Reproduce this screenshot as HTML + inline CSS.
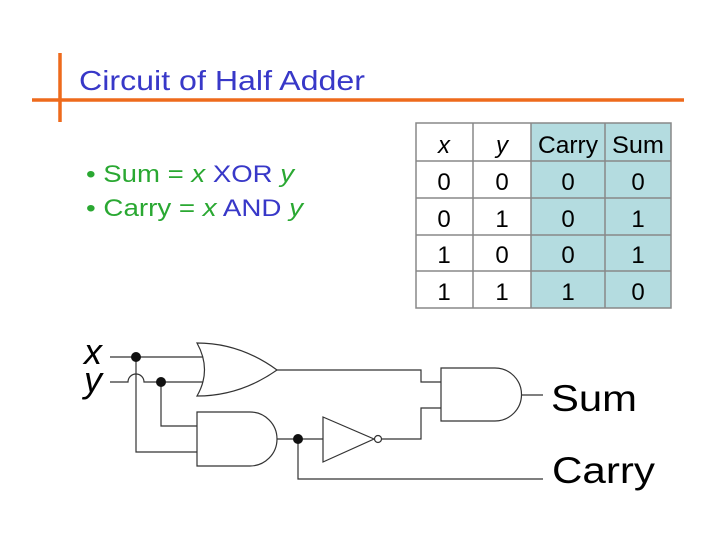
<!DOCTYPE html>
<html><head><meta charset="utf-8"><style>
body{margin:0;width:720px;height:540px;background:#fff;overflow:hidden;font-family:"Liberation Sans",sans-serif}
</style></head><body>
<svg width="720" height="540" viewBox="0 0 720 540" xmlns="http://www.w3.org/2000/svg" font-family="Liberation Sans, sans-serif">
<line x1="32" y1="100" x2="684" y2="100" stroke="#ee6a1c" stroke-width="3.5"/>
<line x1="60" y1="53" x2="60" y2="122" stroke="#ee6a1c" stroke-width="3.5"/>
<text x="79" y="90" font-size="28" fill="#3838c8" textLength="286" lengthAdjust="spacingAndGlyphs">Circuit of Half Adder</text>
<text x="86" y="182" font-size="24" fill="#2aa832" textLength="208" lengthAdjust="spacingAndGlyphs">• Sum = <tspan font-style="italic">x</tspan> <tspan fill="#3838c8">XOR</tspan> <tspan font-style="italic">y</tspan></text>
<text x="86" y="216" font-size="24" fill="#2aa832" textLength="217" lengthAdjust="spacingAndGlyphs">• Carry = <tspan font-style="italic">x</tspan> <tspan fill="#3838c8">AND</tspan> <tspan font-style="italic">y</tspan></text>
<!-- table -->
<rect x="531" y="123" width="140" height="185" fill="#b4dce0"/>
<g stroke="#888" stroke-width="1.5" fill="none">
<rect x="416" y="123" width="255" height="185"/>
<line x1="473" y1="123" x2="473" y2="308"/><line x1="531" y1="123" x2="531" y2="308"/><line x1="605" y1="123" x2="605" y2="308"/>
<line x1="416" y1="161" x2="671" y2="161"/><line x1="416" y1="198" x2="671" y2="198"/><line x1="416" y1="235" x2="671" y2="235"/><line x1="416" y1="271" x2="671" y2="271"/>
</g>
<g font-size="24" fill="#000" text-anchor="middle">
<text x="444" y="153" font-style="italic">x</text><text x="502" y="153" font-style="italic">y</text><text x="568" y="153" textLength="60" lengthAdjust="spacingAndGlyphs">Carry</text><text x="638" y="153" textLength="52" lengthAdjust="spacingAndGlyphs">Sum</text>
<text x="444" y="190">0</text><text x="502" y="190">0</text><text x="568" y="190">0</text><text x="638" y="190">0</text>
<text x="444" y="227">0</text><text x="502" y="227">1</text><text x="568" y="227">0</text><text x="638" y="227">1</text>
<text x="444" y="263">1</text><text x="502" y="263">0</text><text x="568" y="263">0</text><text x="638" y="263">1</text>
<text x="444" y="300">1</text><text x="502" y="300">1</text><text x="568" y="300">1</text><text x="638" y="300">0</text>
</g>
<!-- circuit -->
<text x="84" y="364" font-size="36" font-style="italic">x</text>
<text x="84" y="392" font-size="36" font-style="italic">y</text>
<g stroke="#333" stroke-width="1.2" fill="none">
<line x1="110" y1="357" x2="204" y2="357"/>
<path d="M110 382 H128 A8 8 0 0 1 144 382 H204"/>
<path d="M197 343 Q240 343 277 370 Q240 396 197 396 Q212 370 197 343 Z" fill="#fff"/>
<path d="M277 370 H421 V382 H441"/>
<path d="M441 368 H495 A26.5 26.5 0 0 1 495 421 H441 Z" fill="#fff"/>
<line x1="522" y1="395" x2="543" y2="395"/>
<path d="M161 382 V426 H197"/>
<path d="M136 357 V452 H197"/>
<path d="M197 412 H250 A27 27 0 0 1 250 466 H197 Z" fill="#fff"/>
<line x1="277" y1="439" x2="323" y2="439"/>
<path d="M323 417 L374 439 L323 462 Z" fill="#fff"/>
<circle cx="378" cy="439" r="3.5" fill="#fff"/>
<path d="M382 439 H421 V408 H441"/>
<path d="M298 439 V479 H543"/>
</g>
<g fill="#111"><circle cx="136" cy="357" r="5"/><circle cx="161" cy="382" r="5"/><circle cx="298" cy="439" r="5"/></g>
<text x="551" y="411" font-size="37" textLength="86" lengthAdjust="spacingAndGlyphs">Sum</text>
<text x="552" y="483" font-size="37" textLength="103" lengthAdjust="spacingAndGlyphs">Carry</text>
</svg>
</body></html>
